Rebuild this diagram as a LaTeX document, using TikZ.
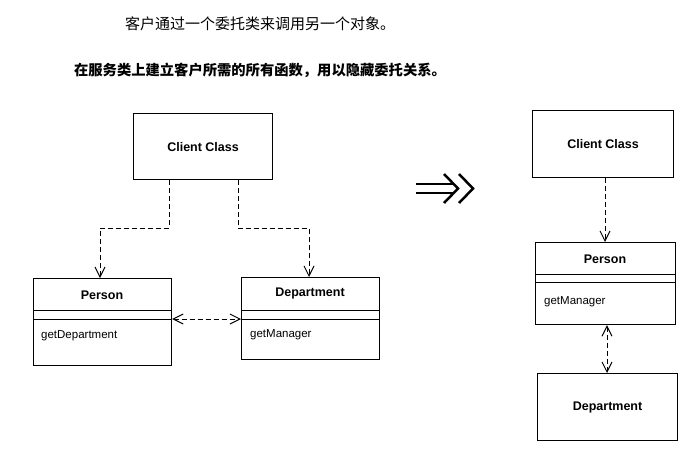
\documentclass[tikz,border=0pt]{standalone}
\usepackage{fontspec}
\setmainfont{Liberation Sans}
\newfontfamily\cjk{Noto Sans CJK SC}
\usetikzlibrary{arrows.meta}
\tikzset{
  box/.style={draw, line width=1.1pt, rectangle, inner sep=0pt, anchor=north west},
  cname/.style={font=\fontsize{12.5}{14}\selectfont\bfseries, inner sep=0pt},
  meth/.style={font=\fontsize{11.5}{13}\selectfont, inner sep=0pt, anchor=west},
  divider/.style={line width=1pt},
  dep/.style={line width=1pt, dash pattern=on 5pt off 3pt, -{Straight Barb[length=10pt,width=10pt,line width=1pt]}},
  bidep/.style={line width=1pt, dash pattern=on 5pt off 3pt, {Straight Barb[length=10pt,width=10pt,line width=1pt]}-{Straight Barb[length=10pt,width=10pt,line width=1pt]}},
  bigarrow/.style={line width=2.5pt, line cap=butt, line join=miter}
}
\begin{document}
\begin{tikzpicture}[x=1pt,y=-1pt]
\useasboundingbox[fill=white] (0,0) rectangle (690,464);

% titles
\node[font=\cjk\fontsize{15}{17}\selectfont, inner sep=0pt] (t1) at (260,24) {客户通过一个委托类来调用另一个对象。};
\node[font=\cjk\fontsize{14.3}{16}\selectfont\bfseries, inner sep=0pt] (t2) at (260,70) {在服务类上建立客户所需的所有函数，用以隐藏委托关系。};

% ---------- left diagram ----------
\node[box, minimum width=139pt, minimum height=66pt] (c1) at (133,113) {};
\node[cname] (c1n) at (c1.center) {Client Class};

\node[box, minimum width=138pt, minimum height=87pt] (p1) at (33,278) {};
\node[cname] (p1n) at (102,295) {Person};
\draw[divider] (p1.west |- 0,310.5) -- (p1.east |- 0,310.5);
\draw[divider] (p1.west |- 0,319) -- (p1.east |- 0,319);
\node[meth] (p1m) at (41,336) {getDepartment};

\node[box, minimum width=138pt, minimum height=82pt] (d1) at (241,277) {};
\node[cname] (d1n) at (310,293) {Department};
\draw[divider] (d1.west |- 0,310) -- (d1.east |- 0,310);
\draw[divider] (d1.west |- 0,319) -- (d1.east |- 0,319);
\node[meth] (d1m) at (250,335) {getManager};

\draw[dep] (c1.south -| 169,0) |- (100,228) -- (p1.north -| 100,0);
\draw[dep] (c1.south -| 238,0) |- (309,228) -- (d1.north -| 309,0);
\draw[bidep] (p1.east |- 0,319) -- (d1.west |- 0,319);

% ---------- big arrow ----------
\coordinate (ba1) at (416,184);
\coordinate (ba2) at (416,193);
\draw[bigarrow] (ba1) -- (454,184);
\draw[bigarrow] (ba2) -- (454,193);
\draw[bigarrow] (444,174) -- (458,188.5) -- (444,203);
\draw[bigarrow] (459,174) -- (473,188.5) -- (459,203);

% ---------- right diagram ----------
\node[box, minimum width=141pt, minimum height=67pt] (c2) at (532,110) {};
\node[cname] (c2n) at (c2.center) {Client Class};

\node[box, minimum width=140pt, minimum height=82pt] (p2) at (535,242) {};
\node[cname] (p2n) at (605,259) {Person};
\draw[divider] (p2.west |- 0,274) -- (p2.east |- 0,274);
\draw[divider] (p2.west |- 0,282) -- (p2.east |- 0,282);
\node[meth] (p2m) at (544,302) {getManager};

\node[box, minimum width=140pt, minimum height=67pt] (d2) at (537,373) {};
\node[cname] (d2n) at (d2.center) {Department};

\draw[dep] (c2.south -| 605,0) -- (p2.north -| 605,0);
\draw[bidep] (p2.south -| 607,0) -- (d2.north -| 607,0);
\end{tikzpicture}
\end{document}
